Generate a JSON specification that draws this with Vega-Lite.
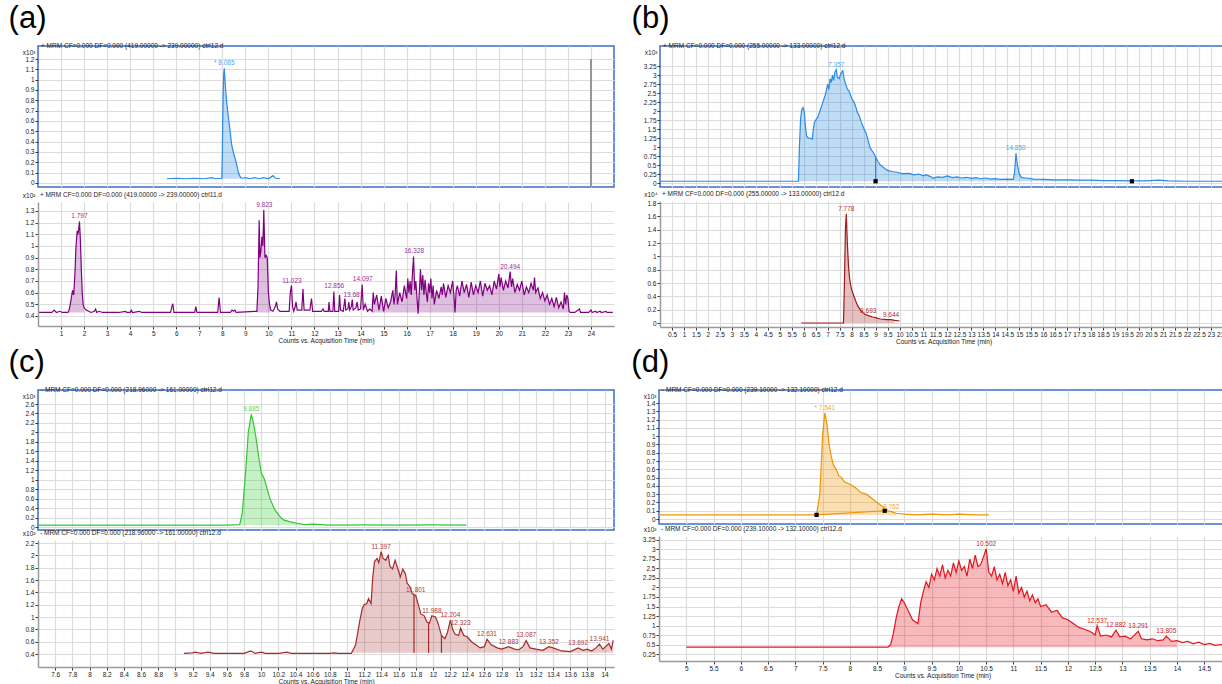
{
"$schema": "https://vega.github.io/schema/vega-lite/v6.json",
"background": "white",
"padding": {"left": 8, "top": 2, "right": 0, "bottom": 0},
"spacing": 1,
"config": {
 "font": "Liberation Sans",
 "view": {"stroke": null},
 "axis": {"labelFontSize": 6.5, "labelColor": "#1a1a1a", "labelOverlap": false, "labelFlush": false, "tickCount": 200, "titleFontSize": 6.5, "titleFontWeight": "normal", "titleColor": "#1a1a1a", "gridColor": "#dcdcdc", "gridWidth": 1.2, "tickColor": "#333333", "tickSize": 3, "labelPadding": 1, "domainColor": "#9a9a9a", "domainWidth": 1.5},
 "title": {"fontWeight": "normal"}
},
"datasets": {
 "aTop": [{"t":5.6,"v":0.04},{"t":6.0,"v":0.045},{"t":6.4,"v":0.04},{"t":6.8,"v":0.045},{"t":7.2,"v":0.04},{"t":7.55,"v":0.05},{"t":7.7,"v":0.04},{"t":7.98,"v":0.045},{"t":8.0,"v":0.3},{"t":8.03,"v":0.8},{"t":8.06,"v":1.05},{"t":8.085,"v":1.11},{"t":8.1,"v":1.05},{"t":8.15,"v":0.88},{"t":8.2,"v":0.76},{"t":8.25,"v":0.66},{"t":8.3,"v":0.57},{"t":8.35,"v":0.48},{"t":8.4,"v":0.38},{"t":8.45,"v":0.32},{"t":8.5,"v":0.28},{"t":8.55,"v":0.24},{"t":8.6,"v":0.2},{"t":8.65,"v":0.15},{"t":8.7,"v":0.1},{"t":8.75,"v":0.07},{"t":8.8,"v":0.05},{"t":8.9,"v":0.045},{"t":9.0,"v":0.05},{"t":9.2,"v":0.04},{"t":9.4,"v":0.05},{"t":9.6,"v":0.04},{"t":9.8,"v":0.05},{"t":10.0,"v":0.04},{"t":10.2,"v":0.07},{"t":10.3,"v":0.045},{"t":10.5,"v":0.04}],
 "aTopLab": [{"t":8.085,"v":1.11,"label":"* 8.085"}],
 "aTopMk": [{"t":24}],
 "aBot": [{"t":0.05,"v":0.43},{"t":0.3,"v":0.43},{"t":0.6,"v":0.43},{"t":0.7,"v":0.45},{"t":0.8,"v":0.43},{"t":0.95,"v":0.44},{"t":1.05,"v":0.43},{"t":1.3,"v":0.43},{"t":1.35,"v":0.45},{"t":1.4,"v":0.5},{"t":1.45,"v":0.56},{"t":1.5,"v":0.62},{"t":1.55,"v":0.58},{"t":1.6,"v":0.75},{"t":1.65,"v":1.0},{"t":1.7,"v":1.13},{"t":1.73,"v":1.1},{"t":1.76,"v":1.13},{"t":1.8,"v":1.21},{"t":1.84,"v":1.05},{"t":1.88,"v":0.8},{"t":1.92,"v":0.6},{"t":1.96,"v":0.5},{"t":2.0,"v":0.47},{"t":2.1,"v":0.45},{"t":2.2,"v":0.44},{"t":2.3,"v":0.43},{"t":2.45,"v":0.44},{"t":2.5,"v":0.46},{"t":2.55,"v":0.43},{"t":2.65,"v":0.44},{"t":2.8,"v":0.43},{"t":3.5,"v":0.43},{"t":3.8,"v":0.44},{"t":3.85,"v":0.43},{"t":4.0,"v":0.43},{"t":4.05,"v":0.45},{"t":4.1,"v":0.43},{"t":4.4,"v":0.44},{"t":4.5,"v":0.43},{"t":5.75,"v":0.43},{"t":5.8,"v":0.47},{"t":5.85,"v":0.505},{"t":5.9,"v":0.43},{"t":6.8,"v":0.43},{"t":6.85,"v":0.48},{"t":6.9,"v":0.43},{"t":7.8,"v":0.43},{"t":7.86,"v":0.557},{"t":7.92,"v":0.43},{"t":8.35,"v":0.43},{"t":8.42,"v":0.45},{"t":8.48,"v":0.44},{"t":8.55,"v":0.45},{"t":8.6,"v":0.43},{"t":9.4,"v":0.44},{"t":9.5,"v":0.44},{"t":9.55,"v":0.65},{"t":9.6,"v":1.22},{"t":9.63,"v":0.9},{"t":9.67,"v":0.95},{"t":9.72,"v":1.08},{"t":9.76,"v":1.0},{"t":9.8,"v":1.31},{"t":9.85,"v":0.9},{"t":9.9,"v":0.92},{"t":9.95,"v":0.9},{"t":10.0,"v":0.6},{"t":10.05,"v":0.5},{"t":10.1,"v":0.45},{"t":10.2,"v":0.44},{"t":10.3,"v":0.48},{"t":10.35,"v":0.52},{"t":10.4,"v":0.46},{"t":10.5,"v":0.44},{"t":10.9,"v":0.44},{"t":10.95,"v":0.6},{"t":11.0,"v":0.66},{"t":11.05,"v":0.48},{"t":11.1,"v":0.44},{"t":11.15,"v":0.47},{"t":11.2,"v":0.52},{"t":11.25,"v":0.45},{"t":11.45,"v":0.45},{"t":11.5,"v":0.63},{"t":11.55,"v":0.45},{"t":11.8,"v":0.45},{"t":11.87,"v":0.55},{"t":11.92,"v":0.44},{"t":12.3,"v":0.44},{"t":12.37,"v":0.46},{"t":12.42,"v":0.44},{"t":12.6,"v":0.44},{"t":12.63,"v":0.52},{"t":12.67,"v":0.44},{"t":12.8,"v":0.44},{"t":12.84,"v":0.61},{"t":12.88,"v":0.44},{"t":13.05,"v":0.44},{"t":13.09,"v":0.58},{"t":13.13,"v":0.45},{"t":13.25,"v":0.44},{"t":13.32,"v":0.55},{"t":13.36,"v":0.45},{"t":13.45,"v":0.46},{"t":13.49,"v":0.52},{"t":13.53,"v":0.45},{"t":13.6,"v":0.48},{"t":13.64,"v":0.54},{"t":13.68,"v":0.45},{"t":13.8,"v":0.47},{"t":13.85,"v":0.52},{"t":13.9,"v":0.45},{"t":14.0,"v":0.46},{"t":14.07,"v":0.67},{"t":14.12,"v":0.45},{"t":14.2,"v":0.5},{"t":14.3,"v":0.44},{"t":14.4,"v":0.46},{"t":14.5,"v":0.44},{"t":14.55,"v":0.6},{"t":14.6,"v":0.5},{"t":14.7,"v":0.58},{"t":14.8,"v":0.45},{"t":14.9,"v":0.57},{"t":15.0,"v":0.44},{"t":15.1,"v":0.55},{"t":15.2,"v":0.47},{"t":15.3,"v":0.52},{"t":15.4,"v":0.62},{"t":15.45,"v":0.5},{"t":15.5,"v":0.58},{"t":15.55,"v":0.79},{"t":15.6,"v":0.5},{"t":15.7,"v":0.6},{"t":15.8,"v":0.52},{"t":15.9,"v":0.66},{"t":16.0,"v":0.55},{"t":16.05,"v":0.72},{"t":16.1,"v":0.6},{"t":16.15,"v":0.7},{"t":16.2,"v":0.58},{"t":16.25,"v":0.76},{"t":16.3,"v":0.91},{"t":16.35,"v":0.62},{"t":16.4,"v":0.7},{"t":16.45,"v":0.55},{"t":16.5,"v":0.42},{"t":16.55,"v":0.6},{"t":16.6,"v":0.8},{"t":16.65,"v":0.62},{"t":16.7,"v":0.75},{"t":16.75,"v":0.58},{"t":16.8,"v":0.71},{"t":16.85,"v":0.6},{"t":16.9,"v":0.52},{"t":16.95,"v":0.68},{"t":17.0,"v":0.6},{"t":17.05,"v":0.72},{"t":17.1,"v":0.55},{"t":17.15,"v":0.66},{"t":17.2,"v":0.5},{"t":17.3,"v":0.62},{"t":17.4,"v":0.55},{"t":17.5,"v":0.65},{"t":17.55,"v":0.58},{"t":17.6,"v":0.68},{"t":17.7,"v":0.56},{"t":17.8,"v":0.66},{"t":17.9,"v":0.6},{"t":18.0,"v":0.7},{"t":18.05,"v":0.58},{"t":18.1,"v":0.43},{"t":18.15,"v":0.62},{"t":18.2,"v":0.66},{"t":18.3,"v":0.57},{"t":18.4,"v":0.7},{"t":18.5,"v":0.6},{"t":18.6,"v":0.67},{"t":18.7,"v":0.56},{"t":18.8,"v":0.69},{"t":18.9,"v":0.58},{"t":19.0,"v":0.66},{"t":19.1,"v":0.6},{"t":19.2,"v":0.7},{"t":19.3,"v":0.57},{"t":19.4,"v":0.68},{"t":19.5,"v":0.62},{"t":19.6,"v":0.66},{"t":19.7,"v":0.58},{"t":19.8,"v":0.7},{"t":19.9,"v":0.63},{"t":20.0,"v":0.76},{"t":20.05,"v":0.65},{"t":20.1,"v":0.73},{"t":20.2,"v":0.62},{"t":20.3,"v":0.7},{"t":20.4,"v":0.64},{"t":20.49,"v":0.78},{"t":20.55,"v":0.65},{"t":20.6,"v":0.72},{"t":20.7,"v":0.6},{"t":20.8,"v":0.67},{"t":20.9,"v":0.62},{"t":21.0,"v":0.7},{"t":21.1,"v":0.58},{"t":21.2,"v":0.65},{"t":21.3,"v":0.6},{"t":21.4,"v":0.68},{"t":21.5,"v":0.62},{"t":21.55,"v":0.73},{"t":21.6,"v":0.6},{"t":21.7,"v":0.64},{"t":21.8,"v":0.55},{"t":21.9,"v":0.6},{"t":22.0,"v":0.53},{"t":22.1,"v":0.58},{"t":22.2,"v":0.5},{"t":22.3,"v":0.55},{"t":22.4,"v":0.48},{"t":22.5,"v":0.56},{"t":22.6,"v":0.47},{"t":22.7,"v":0.52},{"t":22.8,"v":0.46},{"t":22.85,"v":0.6},{"t":22.9,"v":0.5},{"t":22.95,"v":0.58},{"t":23.0,"v":0.55},{"t":23.05,"v":0.44},{"t":23.1,"v":0.43},{"t":23.3,"v":0.43},{"t":23.5,"v":0.46},{"t":23.55,"v":0.43},{"t":23.9,"v":0.43},{"t":24.0,"v":0.45},{"t":24.05,"v":0.43},{"t":24.2,"v":0.44},{"t":24.25,"v":0.43},{"t":24.4,"v":0.44},{"t":24.45,"v":0.43},{"t":24.65,"v":0.44},{"t":24.7,"v":0.43},{"t":24.95,"v":0.43}],
 "aBotLab": [{"t":1.797,"v":1.21,"label":"1.797"},{"t":9.823,"v":1.31,"label":"9.823"},{"t":11.023,"v":0.66,"label":"11.023"},{"t":12.856,"v":0.61,"label":"12.856"},{"t":13.687,"v":0.54,"label":"13.687"},{"t":14.097,"v":0.67,"label":"14.097"},{"t":16.328,"v":0.91,"label":"16.328"},{"t":20.494,"v":0.78,"label":"20.494"}],
 "bTop": [{"t":0,"v":0.05},{"t":2,"v":0.05},{"t":4,"v":0.05},{"t":5.78,"v":0.05},{"t":5.82,"v":1.0},{"t":5.87,"v":1.8},{"t":5.92,"v":2.05},{"t":5.97,"v":2.1},{"t":6.02,"v":2.0},{"t":6.07,"v":1.6},{"t":6.12,"v":1.3},{"t":6.2,"v":1.25},{"t":6.3,"v":1.24},{"t":6.36,"v":1.22},{"t":6.4,"v":1.5},{"t":6.45,"v":1.7},{"t":6.5,"v":1.75},{"t":6.6,"v":1.85},{"t":6.7,"v":2.05},{"t":6.8,"v":2.25},{"t":6.9,"v":2.45},{"t":6.95,"v":2.6},{"t":7.0,"v":2.75},{"t":7.05,"v":2.6},{"t":7.1,"v":2.9},{"t":7.15,"v":2.8},{"t":7.2,"v":3.0},{"t":7.25,"v":2.85},{"t":7.3,"v":3.08},{"t":7.357,"v":3.15},{"t":7.4,"v":2.95},{"t":7.48,"v":2.9},{"t":7.55,"v":3.05},{"t":7.63,"v":3.12},{"t":7.7,"v":2.85},{"t":7.75,"v":2.75},{"t":7.83,"v":2.6},{"t":7.9,"v":2.55},{"t":8.0,"v":2.35},{"t":8.1,"v":2.25},{"t":8.18,"v":2.1},{"t":8.25,"v":1.95},{"t":8.3,"v":1.9},{"t":8.4,"v":1.7},{"t":8.46,"v":1.6},{"t":8.55,"v":1.45},{"t":8.6,"v":1.4},{"t":8.7,"v":1.15},{"t":8.74,"v":1.05},{"t":8.8,"v":0.95},{"t":8.9,"v":0.85},{"t":9.0,"v":0.73},{"t":9.1,"v":0.6},{"t":9.2,"v":0.5},{"t":9.28,"v":0.46},{"t":9.4,"v":0.4},{"t":9.5,"v":0.35},{"t":9.7,"v":0.32},{"t":9.9,"v":0.3},{"t":10.1,"v":0.26},{"t":10.4,"v":0.27},{"t":10.6,"v":0.23},{"t":10.8,"v":0.25},{"t":11.0,"v":0.2},{"t":11.1,"v":0.23},{"t":11.3,"v":0.18},{"t":11.4,"v":0.13},{"t":11.6,"v":0.17},{"t":11.8,"v":0.16},{"t":12.0,"v":0.2},{"t":12.2,"v":0.15},{"t":12.4,"v":0.17},{"t":12.6,"v":0.14},{"t":12.8,"v":0.16},{"t":13.0,"v":0.13},{"t":13.2,"v":0.15},{"t":13.4,"v":0.12},{"t":13.6,"v":0.14},{"t":13.8,"v":0.11},{"t":14.0,"v":0.12},{"t":14.2,"v":0.1},{"t":14.5,"v":0.11},{"t":14.75,"v":0.1},{"t":14.8,"v":0.3},{"t":14.86,"v":0.83},{"t":14.92,"v":0.5},{"t":15.0,"v":0.25},{"t":15.1,"v":0.15},{"t":15.3,"v":0.14},{"t":15.6,"v":0.11},{"t":16.0,"v":0.1},{"t":16.5,"v":0.09},{"t":17.0,"v":0.09},{"t":17.5,"v":0.08},{"t":18.0,"v":0.08},{"t":18.5,"v":0.07},{"t":19.0,"v":0.07},{"t":19.7,"v":0.06},{"t":20.3,"v":0.06},{"t":20.8,"v":0.08},{"t":21.2,"v":0.06},{"t":22.0,"v":0.05},{"t":23.7,"v":0.05}],
 "bTopLab": [{"t":7.357,"v":3.15,"label":"7.357"},{"t":14.85,"v":0.83,"label":"14.850"}],
 "bTopMk": [{"t":9.0,"v":0.05},{"t":19.7,"v":0.05}],
 "bTopRule": [{"t":9.0,"v":0.73,"b":0.05}],
 "bBot": [{"t":5.9,"v":0.0},{"t":6.5,"v":0.0},{"t":7.0,"v":0.0},{"t":7.5,"v":0.0},{"t":7.66,"v":0.0},{"t":7.7,"v":0.6},{"t":7.74,"v":1.4},{"t":7.778,"v":1.64},{"t":7.82,"v":1.2},{"t":7.87,"v":0.85},{"t":7.92,"v":0.65},{"t":7.96,"v":0.57},{"t":8.0,"v":0.5},{"t":8.08,"v":0.42},{"t":8.17,"v":0.33},{"t":8.25,"v":0.26},{"t":8.35,"v":0.2},{"t":8.46,"v":0.16},{"t":8.55,"v":0.13},{"t":8.693,"v":0.11},{"t":8.8,"v":0.1},{"t":8.88,"v":0.09},{"t":9.0,"v":0.08},{"t":9.2,"v":0.06},{"t":9.44,"v":0.05},{"t":9.644,"v":0.05},{"t":9.8,"v":0.04},{"t":10.0,"v":0.03}],
 "bBotLab": [{"t":7.778,"v":1.64,"label":"7.778"},{"t":8.693,"v":0.11,"label":"8.693"},{"t":9.644,"v":0.05,"label":"9.644"}],
 "cTop": [{"t":7.4,"v":0.04},{"t":8.0,"v":0.04},{"t":8.6,"v":0.04},{"t":9.2,"v":0.04},{"t":9.6,"v":0.04},{"t":9.75,"v":0.05},{"t":9.78,"v":0.3},{"t":9.82,"v":1.2},{"t":9.85,"v":2.0},{"t":9.885,"v":2.38},{"t":9.91,"v":2.2},{"t":9.94,"v":1.88},{"t":9.97,"v":1.5},{"t":10.0,"v":1.15},{"t":10.04,"v":1.0},{"t":10.07,"v":0.8},{"t":10.1,"v":0.61},{"t":10.16,"v":0.36},{"t":10.22,"v":0.22},{"t":10.26,"v":0.15},{"t":10.34,"v":0.11},{"t":10.42,"v":0.08},{"t":10.5,"v":0.05},{"t":10.6,"v":0.06},{"t":10.8,"v":0.04},{"t":11.2,"v":0.045},{"t":11.6,"v":0.04},{"t":12.0,"v":0.045},{"t":12.39,"v":0.04}],
 "cTopLab": [{"t":9.885,"v":2.38,"label":"9.885"}],
 "cBot": [{"t":9.1,"v":0.41},{"t":9.2,"v":0.42},{"t":9.23,"v":0.43},{"t":9.3,"v":0.41},{"t":9.38,"v":0.43},{"t":9.45,"v":0.41},{"t":9.6,"v":0.41},{"t":9.8,"v":0.41},{"t":9.88,"v":0.45},{"t":9.93,"v":0.41},{"t":10.0,"v":0.43},{"t":10.05,"v":0.41},{"t":10.2,"v":0.41},{"t":10.3,"v":0.43},{"t":10.35,"v":0.41},{"t":10.6,"v":0.41},{"t":10.8,"v":0.41},{"t":10.85,"v":0.42},{"t":10.9,"v":0.41},{"t":11.05,"v":0.41},{"t":11.1,"v":0.55},{"t":11.15,"v":0.95},{"t":11.18,"v":1.15},{"t":11.2,"v":1.2},{"t":11.23,"v":1.22},{"t":11.25,"v":1.3},{"t":11.28,"v":1.22},{"t":11.3,"v":1.65},{"t":11.32,"v":1.9},{"t":11.35,"v":1.95},{"t":11.37,"v":1.88},{"t":11.397,"v":2.06},{"t":11.42,"v":1.95},{"t":11.45,"v":1.92},{"t":11.48,"v":2.0},{"t":11.5,"v":1.82},{"t":11.53,"v":1.78},{"t":11.56,"v":1.92},{"t":11.6,"v":1.75},{"t":11.62,"v":1.65},{"t":11.65,"v":1.78},{"t":11.68,"v":1.7},{"t":11.7,"v":1.55},{"t":11.73,"v":1.5},{"t":11.76,"v":1.38},{"t":11.8,"v":1.35},{"t":11.83,"v":1.2},{"t":11.86,"v":1.05},{"t":11.9,"v":1.02},{"t":11.93,"v":0.92},{"t":11.96,"v":0.9},{"t":11.988,"v":1.02},{"t":12.03,"v":1.0},{"t":12.06,"v":0.9},{"t":12.1,"v":0.7},{"t":12.14,"v":0.65},{"t":12.17,"v":0.75},{"t":12.204,"v":0.95},{"t":12.23,"v":0.8},{"t":12.26,"v":0.72},{"t":12.3,"v":0.7},{"t":12.323,"v":0.82},{"t":12.36,"v":0.7},{"t":12.4,"v":0.68},{"t":12.45,"v":0.6},{"t":12.5,"v":0.55},{"t":12.55,"v":0.5},{"t":12.6,"v":0.52},{"t":12.631,"v":0.64},{"t":12.68,"v":0.55},{"t":12.75,"v":0.5},{"t":12.8,"v":0.48},{"t":12.883,"v":0.52},{"t":12.95,"v":0.48},{"t":13.0,"v":0.47},{"t":13.05,"v":0.52},{"t":13.087,"v":0.62},{"t":13.13,"v":0.5},{"t":13.2,"v":0.48},{"t":13.28,"v":0.46},{"t":13.352,"v":0.52},{"t":13.4,"v":0.5},{"t":13.5,"v":0.45},{"t":13.6,"v":0.44},{"t":13.692,"v":0.5},{"t":13.75,"v":0.46},{"t":13.8,"v":0.48},{"t":13.85,"v":0.45},{"t":13.9,"v":0.5},{"t":13.941,"v":0.56},{"t":13.98,"v":0.48},{"t":14.05,"v":0.57},{"t":14.08,"v":0.48},{"t":14.1,"v":0.62}],
 "cBotLab": [{"t":11.397,"v":2.06,"label":"11.397"},{"t":11.801,"v":1.35,"label":"11.801"},{"t":11.988,"v":1.02,"label":"11.988"},{"t":12.204,"v":0.95,"label":"12.204"},{"t":12.323,"v":0.82,"label":"12.323"},{"t":12.631,"v":0.64,"label":"12.631"},{"t":12.883,"v":0.52,"label":"12.883"},{"t":13.087,"v":0.62,"label":"13.087"},{"t":13.352,"v":0.52,"label":"13.352"},{"t":13.692,"v":0.5,"label":"13.692"},{"t":13.941,"v":0.56,"label":"13.941"}],
 "cBotSplit": [{"t":11.78,"v":1.37},{"t":11.95,"v":0.9},{"t":12.1,"v":0.7}],
 "dTop": [{"t":4.5,"v":0.05},{"t":5.0,"v":0.05},{"t":5.5,"v":0.05},{"t":6.0,"v":0.05},{"t":6.5,"v":0.05},{"t":7.0,"v":0.05},{"t":7.39,"v":0.05},{"t":7.45,"v":0.3},{"t":7.5,"v":1.0},{"t":7.541,"v":1.28},{"t":7.58,"v":1.15},{"t":7.62,"v":0.9},{"t":7.66,"v":0.75},{"t":7.7,"v":0.65},{"t":7.75,"v":0.6},{"t":7.8,"v":0.52},{"t":7.85,"v":0.5},{"t":7.9,"v":0.45},{"t":8.0,"v":0.42},{"t":8.1,"v":0.38},{"t":8.2,"v":0.32},{"t":8.3,"v":0.3},{"t":8.4,"v":0.25},{"t":8.5,"v":0.2},{"t":8.6,"v":0.15},{"t":8.7,"v":0.1},{"t":8.762,"v":0.09},{"t":8.85,"v":0.07},{"t":9.0,"v":0.06},{"t":9.2,"v":0.05},{"t":9.5,"v":0.06},{"t":9.8,"v":0.05},{"t":10.0,"v":0.06},{"t":10.3,"v":0.05},{"t":10.55,"v":0.05}],
 "dTopLab": [{"t":7.541,"v":1.28,"label":"* 7.541"},{"t":8.762,"v":0.09,"label":"8.762"}],
 "dTopMk": [{"t":7.39,"v":0.05},{"t":8.64,"v":0.1}],
 "dBot": [{"t":5.0,"v":0.43},{"t":5.5,"v":0.43},{"t":6.0,"v":0.43},{"t":6.5,"v":0.43},{"t":7.0,"v":0.43},{"t":7.5,"v":0.43},{"t":8.0,"v":0.43},{"t":8.5,"v":0.43},{"t":8.7,"v":0.43},{"t":8.75,"v":0.5},{"t":8.8,"v":0.8},{"t":8.85,"v":1.2},{"t":8.9,"v":1.5},{"t":8.95,"v":1.7},{"t":9.0,"v":1.6},{"t":9.05,"v":1.45},{"t":9.1,"v":1.3},{"t":9.15,"v":1.15},{"t":9.2,"v":1.1},{"t":9.25,"v":1.05},{"t":9.3,"v":1.6},{"t":9.35,"v":1.9},{"t":9.4,"v":2.15},{"t":9.45,"v":2.0},{"t":9.5,"v":2.35},{"t":9.55,"v":2.2},{"t":9.6,"v":2.5},{"t":9.65,"v":2.3},{"t":9.7,"v":2.6},{"t":9.75,"v":2.25},{"t":9.8,"v":2.45},{"t":9.85,"v":2.3},{"t":9.9,"v":2.65},{"t":9.95,"v":2.4},{"t":10.0,"v":2.7},{"t":10.05,"v":2.45},{"t":10.1,"v":2.55},{"t":10.15,"v":2.3},{"t":10.2,"v":2.75},{"t":10.25,"v":2.5},{"t":10.3,"v":2.85},{"t":10.35,"v":2.55},{"t":10.4,"v":2.6},{"t":10.45,"v":2.8},{"t":10.502,"v":3.02},{"t":10.55,"v":2.4},{"t":10.6,"v":2.3},{"t":10.65,"v":2.55},{"t":10.7,"v":2.2},{"t":10.75,"v":2.35},{"t":10.8,"v":2.1},{"t":10.85,"v":2.4},{"t":10.9,"v":2.05},{"t":10.95,"v":2.2},{"t":11.0,"v":1.9},{"t":11.05,"v":2.3},{"t":11.1,"v":1.85},{"t":11.15,"v":2.0},{"t":11.2,"v":1.75},{"t":11.25,"v":1.9},{"t":11.3,"v":1.65},{"t":11.35,"v":1.8},{"t":11.4,"v":1.6},{"t":11.45,"v":1.7},{"t":11.5,"v":1.5},{"t":11.6,"v":1.55},{"t":11.7,"v":1.35},{"t":11.8,"v":1.4},{"t":11.9,"v":1.2},{"t":12.0,"v":1.15},{"t":12.1,"v":1.05},{"t":12.2,"v":0.95},{"t":12.3,"v":0.9},{"t":12.4,"v":0.85},{"t":12.45,"v":0.8},{"t":12.5,"v":0.75},{"t":12.537,"v":1.0},{"t":12.6,"v":0.72},{"t":12.7,"v":0.75},{"t":12.8,"v":0.7},{"t":12.882,"v":0.88},{"t":12.95,"v":0.7},{"t":13.05,"v":0.72},{"t":13.15,"v":0.65},{"t":13.291,"v":0.85},{"t":13.35,"v":0.65},{"t":13.45,"v":0.62},{"t":13.55,"v":0.65},{"t":13.65,"v":0.6},{"t":13.75,"v":0.62},{"t":13.805,"v":0.72},{"t":13.9,"v":0.58},{"t":14.0,"v":0.6},{"t":14.1,"v":0.55},{"t":14.2,"v":0.58},{"t":14.3,"v":0.52},{"t":14.4,"v":0.56},{"t":14.5,"v":0.5},{"t":14.6,"v":0.53},{"t":14.7,"v":0.48},{"t":14.8,"v":0.5},{"t":14.9,"v":0.46}],
 "dBotLab": [{"t":10.502,"v":3.02,"label":"10.502"},{"t":12.537,"v":1.0,"label":"12.537"},{"t":12.882,"v":0.88,"label":"12.882"},{"t":13.291,"v":0.85,"label":"13.291"},{"t":13.805,"v":0.72,"label":"13.805"}]
},
"vconcat": [
 {"hconcat": [
  {"title": {"text": "(a)", "fontSize": 31, "anchor": "start", "frame": "bounds", "dx": -13, "offset": 7, "color": "#000000"},
   "spacing": 2,
   "vconcat": [
    {"width": 576, "height": 141, "view": {"stroke": "#3c6fc8", "strokeWidth": 1.5},
     "title": {"text": "+ MRM CF=0.000 DF=0.000 (419.00000 -> 239.00000) ctrl12.d", "anchor": "start", "frame": "group", "offset": -3, "baseline": "top", "dx": 3, "fontSize": 6.5, "color": "#1a1a1a"},
     "layer": [
      {"data": {"name": "aTop"}, "transform": [{"filter": {"field": "t", "range": [7.98, 8.8]}}],
       "mark": {"type": "area", "color": "#2b8be6", "opacity": 0.3},
       "encoding": {
        "x": {"field": "t", "type": "quantitative", "scale": {"domain": [0, 25], "nice": false, "zero": false}, "axis": {"values": [1,2,3,4,5,6,7,8,9,10,11,12,13,14,15,16,17,18,19,20,21,22,23,24], "tickCount": 200, "labels": false, "ticks": false, "domain": false, "title": null}},
        "y": {"field": "v", "type": "quantitative", "scale": {"domain": [-0.04, 1.326], "nice": false, "zero": false}, "axis": {"values": [0,0.1,0.2,0.3,0.4,0.5,0.6,0.7,0.8,0.9,1,1.1,1.2], "tickCount": 200, "format": "~g", "domain": false, "title": "x10³", "titleAngle": 0, "titleAlign": "right", "titleBaseline": "alphabetic", "titleX": -3, "titleY": 8}},
        "y2": {"datum": 0.04}}},
      {"data": {"name": "aTop"}, "mark": {"type": "line", "color": "#2b8be6", "strokeWidth": 1.2}, "encoding": {"x": {"field": "t", "type": "quantitative"}, "y": {"field": "v", "type": "quantitative"}}},
      {"data": {"name": "aTopMk"}, "mark": {"type": "rule", "color": "#7a7a7a", "strokeWidth": 1.5}, "encoding": {"x": {"field": "t", "type": "quantitative"}, "y": {"datum": -0.04}, "y2": {"datum": 1.2}}},
      {"data": {"name": "aTopLab"}, "mark": {"type": "text", "fontSize": 6.5, "color": "#4ea3f0", "dy": -3, "baseline": "alphabetic"}, "encoding": {"x": {"field": "t", "type": "quantitative"}, "y": {"field": "v", "type": "quantitative"}, "text": {"field": "label"}}}
     ]},
    {"width": 576, "height": 124,
     "title": {"text": "+ MRM CF=0.000 DF=0.000 (419.00000 -> 239.00000) ctrl11.d", "anchor": "start", "frame": "group", "offset": -6, "dx": 2, "fontSize": 6.5, "color": "#1a1a1a"},
     "layer": [
      {"data": {"name": "aBot"}, "transform": [{"filter": {"field": "t", "range": [1.35, 2.0]}}],
       "mark": {"type": "area", "color": "#800080", "opacity": 0.25},
       "encoding": {
        "x": {"field": "t", "type": "quantitative", "scale": {"domain": [0, 25], "nice": false, "zero": false}, "axis": {"values": [1,2,3,4,5,6,7,8,9,10,11,12,13,14,15,16,17,18,19,20,21,22,23,24], "tickCount": 200, "format": "~g", "title": "Counts vs. Acquisition Time (min)", "titlePadding": 1}},
        "y": {"field": "v", "type": "quantitative", "scale": {"domain": [0.314, 1.377], "nice": false, "zero": false}, "axis": {"values": [0.4,0.5,0.6,0.7,0.8,0.9,1,1.1,1.2,1.3], "tickCount": 200, "format": "~g", "title": "x10²", "titleAngle": 0, "titleAlign": "right", "titleBaseline": "alphabetic", "titleX": -3, "titleY": -5}},
        "y2": {"datum": 0.43}}},
      {"data": {"name": "aBot"}, "transform": [{"filter": {"field": "t", "range": [9.5, 10.1]}}], "mark": {"type": "area", "color": "#800080", "opacity": 0.25}, "encoding": {"x": {"field": "t", "type": "quantitative"}, "y": {"field": "v", "type": "quantitative"}, "y2": {"datum": 0.43}}},
      {"data": {"name": "aBot"}, "transform": [{"filter": {"field": "t", "range": [14.5, 23.05]}}], "mark": {"type": "area", "color": "#800080", "opacity": 0.25}, "encoding": {"x": {"field": "t", "type": "quantitative"}, "y": {"field": "v", "type": "quantitative"}, "y2": {"datum": 0.43}}},
      {"data": {"name": "aBot"}, "mark": {"type": "line", "color": "#800080", "strokeWidth": 1.2}, "encoding": {"x": {"field": "t", "type": "quantitative"}, "y": {"field": "v", "type": "quantitative"}}},
      {"data": {"name": "aBotLab"}, "mark": {"type": "text", "fontSize": 6.5, "color": "#9b2f9b", "dy": -3, "baseline": "alphabetic"}, "encoding": {"x": {"field": "t", "type": "quantitative"}, "y": {"field": "v", "type": "quantitative"}, "text": {"field": "label"}}}
     ]}
   ]},
  {"title": {"text": "(b)", "fontSize": 31, "anchor": "start", "frame": "bounds", "dx": -11, "offset": 7, "color": "#000000"},
   "spacing": 2,
   "vconcat": [
    {"width": 567, "height": 141, "view": {"stroke": "#3c6fc8", "strokeWidth": 1.5},
     "title": {"text": "+ MRM CF=0.000 DF=0.000 (255.00000 -> 133.00000) ctrl12.d", "anchor": "start", "frame": "group", "offset": -3, "baseline": "top", "dx": 3, "fontSize": 6.5, "color": "#1a1a1a"},
     "layer": [
      {"data": {"name": "bTop"}, "transform": [{"filter": {"field": "t", "range": [5.78, 19.7]}}],
       "mark": {"type": "area", "color": "#2b8be6", "opacity": 0.3},
       "encoding": {
        "x": {"field": "t", "type": "quantitative", "scale": {"domain": [0, 23.67], "nice": false, "zero": false}, "axis": {"values": [0.5,1,1.5,2,2.5,3,3.5,4,4.5,5,5.5,6,6.5,7,7.5,8,8.5,9,9.5,10,10.5,11,11.5,12,12.5,13,13.5,14,14.5,15,15.5,16,16.5,17,17.5,18,18.5,19,19.5,20,20.5,21,21.5,22,22.5,23,23.5], "tickCount": 200, "labels": false, "ticks": false, "domain": false, "title": null}},
        "y": {"field": "v", "type": "quantitative", "scale": {"domain": [-0.11, 3.81], "nice": false, "zero": false}, "axis": {"values": [0,0.25,0.5,0.75,1,1.25,1.5,1.75,2,2.25,2.5,2.75,3,3.25], "tickCount": 200, "format": "~g", "domain": false, "title": "x10³", "titleAngle": 0, "titleAlign": "right", "titleBaseline": "alphabetic", "titleX": -3, "titleY": 8}},
        "y2": {"datum": 0.05}}},
      {"data": {"name": "bTop"}, "mark": {"type": "line", "color": "#2b8be6", "strokeWidth": 1.2}, "encoding": {"x": {"field": "t", "type": "quantitative"}, "y": {"field": "v", "type": "quantitative"}}},
      {"data": {"name": "bTopRule"}, "mark": {"type": "rule", "color": "#2b8be6", "strokeWidth": 1.2}, "encoding": {"x": {"field": "t", "type": "quantitative"}, "y": {"field": "b", "type": "quantitative"}, "y2": {"field": "v"}}},
      {"data": {"name": "bTopMk"}, "mark": {"type": "point", "shape": "square", "filled": true, "color": "#000000", "size": 18, "opacity": 1}, "encoding": {"x": {"field": "t", "type": "quantitative"}, "y": {"field": "v", "type": "quantitative"}}},
      {"data": {"name": "bTopLab"}, "mark": {"type": "text", "fontSize": 6.5, "color": "#4ea3f0", "dy": -3, "baseline": "alphabetic"}, "encoding": {"x": {"field": "t", "type": "quantitative"}, "y": {"field": "v", "type": "quantitative"}, "text": {"field": "label"}}}
     ]},
    {"width": 567, "height": 126,
     "title": {"text": "+ MRM CF=0.000 DF=0.000 (255.00000 -> 133.00000) ctrl12.d", "anchor": "start", "frame": "group", "offset": -6, "dx": 2, "fontSize": 6.5, "color": "#1a1a1a"},
     "layer": [
      {"data": {"name": "bBot"}, "transform": [{"filter": {"field": "t", "range": [7.66, 9.9]}}],
       "mark": {"type": "area", "color": "#9e1b1b", "opacity": 0.28},
       "encoding": {
        "x": {"field": "t", "type": "quantitative", "scale": {"domain": [0, 23.67], "nice": false, "zero": false}, "axis": {"values": [0.5,1,1.5,2,2.5,3,3.5,4,4.5,5,5.5,6,6.5,7,7.5,8,8.5,9,9.5,10,10.5,11,11.5,12,12.5,13,13.5,14,14.5,15,15.5,16,16.5,17,17.5,18,18.5,19,19.5,20,20.5,21,21.5,22,22.5,23,23.5], "tickCount": 200, "format": "~g", "title": "Counts vs. Acquisition Time (min)", "titlePadding": 1}},
        "y": {"field": "v", "type": "quantitative", "scale": {"domain": [-0.06, 1.83], "nice": false, "zero": false}, "axis": {"values": [0,0.2,0.4,0.6,0.8,1,1.2,1.4,1.6,1.8], "tickCount": 200, "format": "~g", "title": "x10⁴", "titleAngle": 0, "titleAlign": "right", "titleBaseline": "alphabetic", "titleX": -3, "titleY": -5}},
        "y2": {"datum": 0.0}}},
      {"data": {"name": "bBot"}, "mark": {"type": "line", "color": "#9e1b1b", "strokeWidth": 1.2}, "encoding": {"x": {"field": "t", "type": "quantitative"}, "y": {"field": "v", "type": "quantitative"}}},
      {"data": {"name": "bBotLab"}, "mark": {"type": "text", "fontSize": 6.5, "color": "#b03030", "dy": -3, "baseline": "alphabetic"}, "encoding": {"x": {"field": "t", "type": "quantitative"}, "y": {"field": "v", "type": "quantitative"}, "text": {"field": "label"}}}
     ]}
   ]}
 ], "spacing": 15},
 {"hconcat": [
  {"title": {"text": "(c)", "fontSize": 31, "anchor": "start", "frame": "bounds", "dx": -13, "offset": 7, "color": "#000000"},
   "spacing": -3,
   "vconcat": [
    {"width": 576, "height": 140, "view": {"stroke": "#3c6fc8", "strokeWidth": 1.5},
     "title": {"text": "- MRM CF=0.000 DF=0.000 (218.96000 -> 161.00000) ctrl12.d", "anchor": "start", "frame": "group", "offset": -3, "baseline": "top", "dx": 3, "fontSize": 6.5, "color": "#1a1a1a"},
     "layer": [
      {"data": {"name": "cTop"}, "transform": [{"filter": {"field": "t", "range": [9.75, 10.5]}}],
       "mark": {"type": "area", "color": "#32c832", "opacity": 0.28},
       "encoding": {
        "x": {"field": "t", "type": "quantitative", "scale": {"domain": [7.4, 14.11], "nice": false, "zero": false}, "axis": {"values": [7.6,7.8,8,8.2,8.4,8.6,8.8,9,9.2,9.4,9.6,9.8,10,10.2,10.4,10.6,10.8,11,11.2,11.4,11.6,11.8,12,12.2,12.4,12.6,12.8,13,13.2,13.4,13.6,13.8,14], "tickCount": 200, "labels": false, "ticks": false, "domain": false, "title": null}},
        "y": {"field": "v", "type": "quantitative", "scale": {"domain": [-0.063, 2.896], "nice": false, "zero": false}, "axis": {"values": [0,0.2,0.4,0.6,0.8,1,1.2,1.4,1.6,1.8,2,2.2,2.4,2.6], "tickCount": 200, "format": "~g", "domain": false, "title": "x10³", "titleAngle": 0, "titleAlign": "right", "titleBaseline": "alphabetic", "titleX": -3, "titleY": 8}},
        "y2": {"datum": 0.04}}},
      {"data": {"name": "cTop"}, "mark": {"type": "line", "color": "#32c832", "strokeWidth": 1.2}, "encoding": {"x": {"field": "t", "type": "quantitative"}, "y": {"field": "v", "type": "quantitative"}}},
      {"data": {"name": "cTopLab"}, "mark": {"type": "text", "fontSize": 6.5, "color": "#5fd35f", "dy": -3, "baseline": "alphabetic"}, "encoding": {"x": {"field": "t", "type": "quantitative"}, "y": {"field": "v", "type": "quantitative"}, "text": {"field": "label"}}}
     ]},
    {"width": 576, "height": 127,
     "title": {"text": "- MRM CF=0.000 DF=0.000 (218.96000 -> 161.00000) ctrl12.d", "anchor": "start", "frame": "group", "offset": -6, "dx": 2, "fontSize": 6.5, "color": "#1a1a1a"},
     "layer": [
      {"data": {"name": "cBot"}, "transform": [{"filter": {"field": "t", "range": [11.05, 14.1]}}],
       "mark": {"type": "area", "color": "#a52a2a", "opacity": 0.25},
       "encoding": {
        "x": {"field": "t", "type": "quantitative", "scale": {"domain": [7.4, 14.11], "nice": false, "zero": false}, "axis": {"values": [7.6,7.8,8,8.2,8.4,8.6,8.8,9,9.2,9.4,9.6,9.8,10,10.2,10.4,10.6,10.8,11,11.2,11.4,11.6,11.8,12,12.2,12.4,12.6,12.8,13,13.2,13.4,13.6,13.8,14], "tickCount": 200, "format": "~g", "title": "Counts vs. Acquisition Time (min)", "titlePadding": 1}},
        "y": {"field": "v", "type": "quantitative", "scale": {"domain": [0.19, 2.249], "nice": false, "zero": false}, "axis": {"values": [0.4,0.6,0.8,1,1.2,1.4,1.6,1.8,2,2.2], "tickCount": 200, "format": "~g", "title": "x10²", "titleAngle": 0, "titleAlign": "right", "titleBaseline": "alphabetic", "titleX": -3, "titleY": -5}},
        "y2": {"datum": 0.42}}},
      {"data": {"name": "cBot"}, "mark": {"type": "line", "color": "#a52a2a", "strokeWidth": 1.2}, "encoding": {"x": {"field": "t", "type": "quantitative"}, "y": {"field": "v", "type": "quantitative"}}},
      {"data": {"name": "cBotSplit"}, "mark": {"type": "rule", "color": "#a52a2a", "strokeWidth": 1.2}, "encoding": {"x": {"field": "t", "type": "quantitative"}, "y": {"field": "v", "type": "quantitative"}, "y2": {"datum": 0.42}}},
      {"data": {"name": "cBotLab"}, "mark": {"type": "text", "fontSize": 6.5, "color": "#b03a3a", "dy": -3, "baseline": "alphabetic"}, "encoding": {"x": {"field": "t", "type": "quantitative"}, "y": {"field": "v", "type": "quantitative"}, "text": {"field": "label"}}}
     ]}
   ]},
  {"title": {"text": "(d)", "fontSize": 31, "anchor": "start", "frame": "bounds", "dx": -11, "offset": 7, "color": "#000000"},
   "spacing": 0,
   "vconcat": [
    {"width": 567, "height": 134, "view": {"stroke": "#3c6fc8", "strokeWidth": 1.5},
     "title": {"text": "- MRM CF=0.000 DF=0.000 (239.10000 -> 132.10000) ctrl12.d", "anchor": "start", "frame": "group", "offset": -3, "baseline": "top", "dx": 3, "fontSize": 6.5, "color": "#1a1a1a"},
     "layer": [
      {"data": {"name": "dTop"}, "transform": [{"filter": {"field": "t", "range": [7.39, 8.85]}}],
       "mark": {"type": "area", "color": "#f39200", "opacity": 0.3},
       "encoding": {
        "x": {"field": "t", "type": "quantitative", "scale": {"domain": [4.5, 14.9], "nice": false, "zero": false}, "axis": {"values": [5,5.5,6,6.5,7,7.5,8,8.5,9,9.5,10,10.5,11,11.5,12,12.5,13,13.5,14,14.5], "tickCount": 200, "labels": false, "ticks": false, "domain": false, "title": null}},
        "y": {"field": "v", "type": "quantitative", "scale": {"domain": [-0.06, 1.557], "nice": false, "zero": false}, "axis": {"values": [0,0.1,0.2,0.3,0.4,0.5,0.6,0.7,0.8,0.9,1,1.1,1.2,1.3,1.4], "tickCount": 200, "format": "~g", "domain": false, "title": "x10³", "titleAngle": 0, "titleAlign": "right", "titleBaseline": "alphabetic", "titleX": -3, "titleY": 8}},
        "y2": {"datum": 0.05}}},
      {"data": {"name": "dTop"}, "mark": {"type": "line", "color": "#f39200", "strokeWidth": 1.2}, "encoding": {"x": {"field": "t", "type": "quantitative"}, "y": {"field": "v", "type": "quantitative"}}},
      {"data": {"name": "dTopMk"}, "mark": {"type": "line", "color": "#f39200", "strokeWidth": 1.2}, "encoding": {"x": {"field": "t", "type": "quantitative"}, "y": {"field": "v", "type": "quantitative"}}},
      {"data": {"name": "dTopMk"}, "mark": {"type": "point", "shape": "square", "filled": true, "color": "#000000", "size": 18, "opacity": 1}, "encoding": {"x": {"field": "t", "type": "quantitative"}, "y": {"field": "v", "type": "quantitative"}}},
      {"data": {"name": "dTopLab"}, "mark": {"type": "text", "fontSize": 6.5, "color": "#f5a623", "dy": -3, "baseline": "alphabetic"}, "encoding": {"x": {"field": "t", "type": "quantitative"}, "y": {"field": "v", "type": "quantitative"}, "text": {"field": "label"}}}
     ]},
    {"width": 567, "height": 125,
     "title": {"text": "- MRM CF=0.000 DF=0.000 (239.10000 -> 132.10000) ctrl12.d", "anchor": "start", "frame": "group", "offset": -6, "dx": 2, "fontSize": 6.5, "color": "#1a1a1a"},
     "layer": [
      {"data": {"name": "dBot"}, "transform": [{"filter": {"field": "t", "range": [8.7, 14.0]}}],
       "mark": {"type": "area", "color": "#e3161e", "opacity": 0.3},
       "encoding": {
        "x": {"field": "t", "type": "quantitative", "scale": {"domain": [4.5, 14.9], "nice": false, "zero": false}, "axis": {"values": [5,5.5,6,6.5,7,7.5,8,8.5,9,9.5,10,10.5,11,11.5,12,12.5,13,13.5,14,14.5], "tickCount": 200, "format": "~g", "title": "Counts vs. Acquisition Time (min)", "titlePadding": 1}},
        "y": {"field": "v", "type": "quantitative", "scale": {"domain": [0.066, 3.355], "nice": false, "zero": false}, "axis": {"values": [0.25,0.5,0.75,1,1.25,1.5,1.75,2,2.25,2.5,2.75,3,3.25], "tickCount": 200, "format": "~g", "title": "x10²", "titleAngle": 0, "titleAlign": "right", "titleBaseline": "alphabetic", "titleX": -3, "titleY": -5}},
        "y2": {"datum": 0.43}}},
      {"data": {"name": "dBot"}, "mark": {"type": "line", "color": "#e3161e", "strokeWidth": 1.2}, "encoding": {"x": {"field": "t", "type": "quantitative"}, "y": {"field": "v", "type": "quantitative"}}},
      {"data": {"name": "dBotLab"}, "mark": {"type": "text", "fontSize": 6.5, "color": "#d42020", "dy": -3, "baseline": "alphabetic"}, "encoding": {"x": {"field": "t", "type": "quantitative"}, "y": {"field": "v", "type": "quantitative"}, "text": {"field": "label"}}}
     ]}
   ]}
 ], "spacing": 15}
]
}
